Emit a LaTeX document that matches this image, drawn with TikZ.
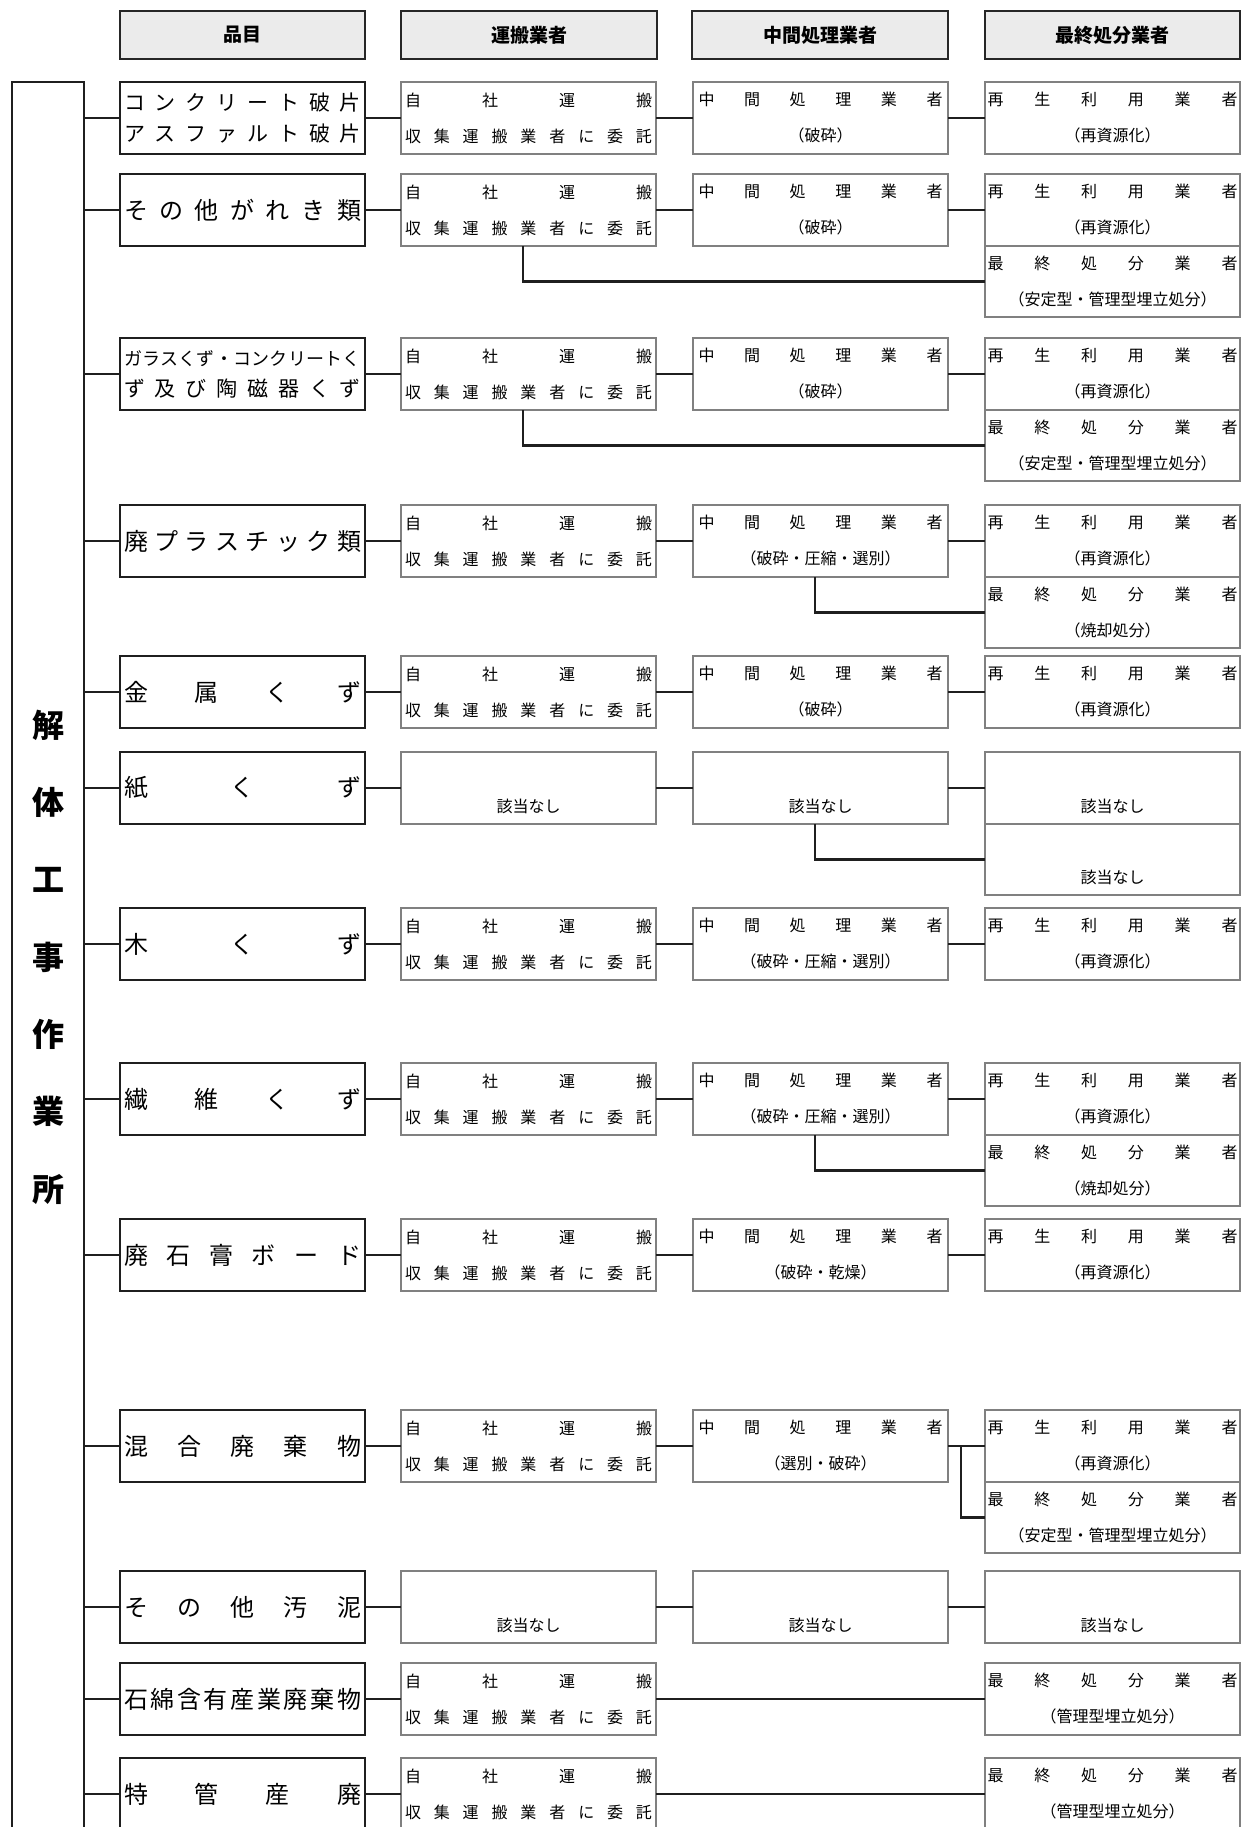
\documentclass[tikz,border=0pt]{standalone}
\usepackage{fontspec}
\setmainfont{Noto Sans CJK JP}
\def\sprA#1{#1\futurelet\sprnext\sprB}
\def\sprB{\ifx\sprnext\relax\expandafter\sprgobble\else\hfill\expandafter\sprA\fi}
\def\sprgobble#1{}
\newcommand\spr[2]{\makebox[#1][s]{\sprA#2\relax}}
\newcommand\carrier{\spr{247bp}{自社運搬}\\\spr{247bp}{収集運搬業者に委託}}
\newcommand\midtxt[1]{\spr{244bp}{中間処理業者}\\#1}
\newcommand\recyc{\spr{250bp}{再生利用業者}\\（再資源化）}
\newcommand\finaltxt[1]{\spr{250bp}{最終処分業者}\\#1}
\newcommand\gaitou{\vphantom{該}\\該当なし}
\begin{document}
\begin{tikzpicture}[x=1bp,y=-1bp,
  hdr/.style={draw=black!85,line width=2.4bp,fill=black!8,minimum width=245bp,minimum height=48bp,inner sep=0pt,font=\bfseries\fontsize{19bp}{22bp}\selectfont},
  item/.style={draw=black!88,line width=2.6bp,minimum width=245bp,minimum height=72bp,inner sep=0pt,outer sep=0pt,align=center,font=\fontsize{24bp}{31bp}\selectfont},
  item2/.style={item,font=\fontsize{21bp}{31bp}\selectfont},
  sbox/.style={draw=black!50,line width=1.3bp,minimum width=255bp,minimum height=72bp,inner sep=0pt,outer sep=0pt,align=center,font=\fontsize{16bp}{36bp}\selectfont,text=black},
  sub/.style={sbox,minimum height=71bp,anchor=north},
  conn/.style={line width=2.6bp,draw=black!88}]
\useasboundingbox (0,0) rectangle (1247,1827);
\fill[white] (0,0) rectangle (1247,1827);
\clip (0,0) rectangle (1247,1827);

% headers
\node[hdr] (h1) at (242.5,35) {品目};
\node[hdr,minimum width=256bp] (h2) at (529,35) {運搬業者};
\node[hdr,minimum width=256bp] (h3) at (820,35) {中間処理業者};
\node[hdr,minimum width=255bp] (h4) at (1112.5,35) {最終処分業者};

% left site box
\draw[conn] (84,1860) -- (84,82) -- (12,82) -- (12,1860);
\coordinate (trunk) at (84,82);
\node[inner sep=0pt,align=center,font=\bfseries\fontsize{32bp}{77.3bp}\selectfont] (site) at (48,957) {解\\体\\工\\事\\作\\業\\所};

% row 1
\node[item2] (i1) at (242.5,118) {\spr{237bp}{コンクリート破片}\\\spr{237bp}{アスファルト破片}};
\node[sbox] (c1) at (528.5,118) {\carrier};
\node[sbox] (m1) at (820.5,118) {\midtxt{（破砕）}};
\node[sbox] (f1) at (1112.5,118) {\recyc};
\draw[conn] (i1.east) -- (c1.west) (c1.east) -- (m1.west) (m1.east) -- (f1.west);

% row 2
\node[item] (i2) at (242.5,210) {\spr{237bp}{その他がれき類}};
\node[sbox] (c2) at (528.5,210) {\carrier};
\node[sbox] (m2) at (820.5,210) {\midtxt{（破砕）}};
\node[sbox] (f2) at (1112.5,210) {\recyc};
\node[sub] (f2b) at (f2.south) {\finaltxt{（安定型・管理型埋立処分）}};
\draw[conn] (i2.east) -- (c2.west) (c2.east) -- (m2.west) (m2.east) -- (f2.west);
\draw[conn] ([xshift=-5.5bp]c2.south) |- (f2b.west);

% row 3
\node[item2] (i3) at (242.5,374) {{\fontsize{18bp}{31bp}\selectfont\spr{237bp}{ガラスくず・コンクリートく}}\\\spr{237bp}{ず及び陶磁器くず}};
\node[sbox] (c3) at (528.5,374) {\carrier};
\node[sbox] (m3) at (820.5,374) {\midtxt{（破砕）}};
\node[sbox] (f3) at (1112.5,374) {\recyc};
\node[sub] (f3b) at (f3.south) {\finaltxt{（安定型・管理型埋立処分）}};
\draw[conn] (i3.east) -- (c3.west) (c3.east) -- (m3.west) (m3.east) -- (f3.west);
\draw[conn] ([xshift=-5.5bp]c3.south) |- (f3b.west);

% row 4
\node[item] (i4) at (242.5,541) {\spr{237bp}{廃プラスチック類}};
\node[sbox] (c4) at (528.5,541) {\carrier};
\node[sbox] (m4) at (820.5,541) {\midtxt{（破砕・圧縮・選別）}};
\node[sbox] (f4) at (1112.5,541) {\recyc};
\node[sub] (f4b) at (f4.south) {\finaltxt{（焼却処分）}};
\draw[conn] (i4.east) -- (c4.west) (c4.east) -- (m4.west) (m4.east) -- (f4.west);
\draw[conn] ([xshift=-5.5bp]m4.south) |- (f4b.west);

% row 5
\node[item] (i5) at (242.5,692) {\spr{237bp}{金属くず}};
\node[sbox] (c5) at (528.5,692) {\carrier};
\node[sbox] (m5) at (820.5,692) {\midtxt{（破砕）}};
\node[sbox] (f5) at (1112.5,692) {\recyc};
\draw[conn] (i5.east) -- (c5.west) (c5.east) -- (m5.west) (m5.east) -- (f5.west);

% row 6
\node[item] (i6) at (242.5,788) {\spr{237bp}{紙くず}};
\node[sbox] (c6) at (528.5,788) {\gaitou};
\node[sbox] (m6) at (820.5,788) {\gaitou};
\node[sbox] (f6) at (1112.5,788) {\gaitou};
\node[sub] (f6b) at (f6.south) {\gaitou};
\draw[conn] (i6.east) -- (c6.west) (c6.east) -- (m6.west) (m6.east) -- (f6.west);
\draw[conn] ([xshift=-5.5bp]m6.south) |- (f6b.west);

% row 7
\node[item] (i7) at (242.5,944) {\spr{237bp}{木くず}};
\node[sbox] (c7) at (528.5,944) {\carrier};
\node[sbox] (m7) at (820.5,944) {\midtxt{（破砕・圧縮・選別）}};
\node[sbox] (f7) at (1112.5,944) {\recyc};
\draw[conn] (i7.east) -- (c7.west) (c7.east) -- (m7.west) (m7.east) -- (f7.west);

% row 8
\node[item] (i8) at (242.5,1099) {\spr{237bp}{繊維くず}};
\node[sbox] (c8) at (528.5,1099) {\carrier};
\node[sbox] (m8) at (820.5,1099) {\midtxt{（破砕・圧縮・選別）}};
\node[sbox] (f8) at (1112.5,1099) {\recyc};
\node[sub] (f8b) at (f8.south) {\finaltxt{（焼却処分）}};
\draw[conn] (i8.east) -- (c8.west) (c8.east) -- (m8.west) (m8.east) -- (f8.west);
\draw[conn] ([xshift=-5.5bp]m8.south) |- (f8b.west);

% row 9
\node[item] (i9) at (242.5,1255) {\spr{237bp}{廃石膏ボード}};
\node[sbox] (c9) at (528.5,1255) {\carrier};
\node[sbox] (m9) at (820.5,1255) {\midtxt{（破砕・乾燥）}};
\node[sbox] (f9) at (1112.5,1255) {\recyc};
\draw[conn] (i9.east) -- (c9.west) (c9.east) -- (m9.west) (m9.east) -- (f9.west);

% row 10
\node[item] (i10) at (242.5,1446) {\spr{237bp}{混合廃棄物}};
\node[sbox] (c10) at (528.5,1446) {\carrier};
\node[sbox] (m10) at (820.5,1446) {\midtxt{（選別・破砕）}};
\node[sbox] (f10) at (1112.5,1446) {\recyc};
\node[sub] (f10b) at (f10.south) {\finaltxt{（安定型・管理型埋立処分）}};
\draw[conn] (i10.east) -- (c10.west) (c10.east) -- (m10.west) (m10.east) -- (f10.west);
\coordinate (j10) at (961,1446);
\draw[conn] (j10) |- (f10b.west);

% row 11
\node[item] (i11) at (242.5,1607) {\spr{237bp}{その他汚泥}};
\node[sbox] (c11) at (528.5,1607) {\gaitou};
\node[sbox] (m11) at (820.5,1607) {\gaitou};
\node[sbox] (f11) at (1112.5,1607) {\gaitou};
\draw[conn] (i11.east) -- (c11.west) (c11.east) -- (m11.west) (m11.east) -- (f11.west);

% row 12
\node[item] (i12) at (242.5,1699) {\spr{237bp}{石綿含有産業廃棄物}};
\node[sbox] (c12) at (528.5,1699) {\carrier};
\node[sbox] (f12) at (1112.5,1699) {\finaltxt{（管理型埋立処分）}};
\draw[conn] (i12.east) -- (c12.west) (c12.east) -- (f12.west);

% row 13
\node[item] (i13) at (242.5,1794) {\spr{237bp}{特管産廃}};
\node[sbox] (c13) at (528.5,1794) {\carrier};
\node[sbox] (f13) at (1112.5,1794) {\finaltxt{（管理型埋立処分）}};
\draw[conn] (i13.east) -- (c13.west) (c13.east) -- (f13.west);

% branches from trunk
\foreach \r in {1,...,13} \draw[conn] (trunk |- i\r.west) -- (i\r.west);
\end{tikzpicture}
\end{document}
